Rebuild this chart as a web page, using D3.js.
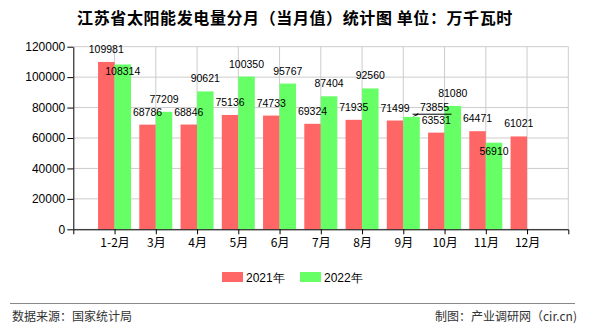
<!DOCTYPE html>
<html><head><meta charset="utf-8">
<script src="https://cdn.jsdelivr.net/npm/d3@7"></script>
<style>
html,body{margin:0;padding:0;background:#fff;}
svg{display:block;}
</style></head>
<body>
<svg id="chart" width="590" height="330"></svg>
<script>
const categories = ["1-2月","3月","4月","5月","6月","7月","8月","9月","10月","11月","12月"];
const series2021 = [109981,68786,68846,75136,74733,69324,71935,71499,63531,64471,61021];
const series2022 = [108314,77209,90621,100350,95767,87404,92560,73855,81080,56910,null];
const seriesNames = ["2021年","2022年"];
const seriesColors = ["#FF6666","#66FF66"];
const yTicks = [0,20000,40000,60000,80000,100000,120000];
const title = "江苏省太阳能发电量分月（当月值）统计图 单位：万千瓦时";
const sourceText = "数据来源：国家统计局";
const creditText = "制图：产业调研网（cir.cn)";
// label displacements (as in the reference, to avoid overlaps)
const labelShift = [
  {s:1, c:"1-2月", dx:0, dy:20, leader:false},
  {s:1, c:"11月", dx:0, dy:21, leader:false},
  {s:1, c:"9月", dx:23, dy:3.3, leader:true}
];

const svg = d3.select("#chart");
const pLeft = 73.3, pRight = 568.3, pTop = 46.7, pBottom = 229.3;
const barW = 16.5;

const x = d3.scalePoint().domain(categories).range([pLeft, pRight]).padding(1);
const y = d3.scaleLinear().domain([0,120000]).range([pBottom, pTop]);

// title
svg.append("text").attr("x", 295).attr("y", 24).attr("text-anchor","middle")
  .style("font-family","'Noto Sans CJK SC'").style("font-size","16px").style("font-weight","bold")
  .style("letter-spacing","0.6px")
  .attr("fill","#000").text(title);

// grid
const grid = svg.append("g");
grid.selectAll("line.h").data(yTicks).join("line")
  .attr("x1", pLeft).attr("x2", pRight).attr("y1", d=>y(d)).attr("y2", d=>y(d))
  .attr("stroke","#cccccc").attr("stroke-width",1);
grid.selectAll("line.v").data(categories.map(c=>x(c)).concat([pRight])).join("line")
  .attr("x1", d=>d).attr("x2", d=>d).attr("y1", pTop).attr("y2", pBottom)
  .attr("stroke","#cccccc").attr("stroke-width",1);

// bars
const data = categories.map((c,i)=>({c, v:[series2021[i], series2022[i]]}));
const barG = svg.append("g");
[0,1].forEach(s=>{
  barG.selectAll("rect.s"+s).data(data.filter(d=>d.v[s]!=null)).join("rect")
    .attr("class","s"+s)
    .attr("x", d=> s===0 ? x(d.c)-barW : x(d.c))
    .attr("y", d=>y(d.v[s]))
    .attr("width", barW)
    .attr("height", d=>pBottom - y(d.v[s]))
    .attr("fill", seriesColors[s]);
});

// axes
const yAxis = svg.append("g").attr("transform",`translate(${pLeft},0)`)
  .call(d3.axisLeft(y).tickValues(yTicks).tickFormat(d3.format("d")).tickSize(6).tickSizeOuter(0));
const xAxis = svg.append("g").attr("transform",`translate(0,${pBottom})`)
  .call(d3.axisBottom(x).tickSize(5).tickSizeOuter(5));
[yAxis,xAxis].forEach(a=>{
  a.selectAll("path,line").attr("stroke","#000");
  a.selectAll("text").attr("fill","#000")
   .style("font-family","'Liberation Sans', Arial, sans-serif").style("font-size","12px");
});
yAxis.selectAll("text").attr("x",-8);
xAxis.selectAll("text").attr("y",9).style("font-family","'Noto Sans CJK SC'").style("font-size","12px");

// value labels
const lblG = svg.append("g").style("font-family","'Liberation Sans', Arial, sans-serif").style("font-size","10.5px");
[0,1].forEach(s=>{
  data.filter(d=>d.v[s]!=null).forEach(d=>{
    const cx = s===0 ? x(d.c)-barW/2 : x(d.c)+barW/2;
    const sh = labelShift.find(o=>o.s===s && o.c===d.c) || {dx:0,dy:0,leader:false};
    const ty = y(d.v[s]) - 9 + sh.dy;
    const tx = cx + sh.dx;
    lblG.append("text").attr("x",tx).attr("y",ty).attr("text-anchor","middle").attr("fill","#000").text(d.v[s]);
    if (sh.leader) {
      const ly = ty + 3;
      const lx0 = cx + 1, lx1 = tx + 17;
      lblG.append("line").attr("x1",lx0).attr("x2",lx1).attr("y1",ly).attr("y2",ly)
        .attr("stroke","#000").attr("stroke-width",1);
      lblG.append("path").attr("d",`M${lx0},${ly+2.5}L${lx0+6},${ly-1.5}L${lx0+5},${ly+1}Z`).attr("fill","#000");
    }
  });
});

// legend
const lg = svg.append("g");
seriesNames.forEach((n,i)=>{
  const lx = 222 + i*78;
  lg.append("rect").attr("x",lx).attr("y",272).attr("width",21).attr("height",10).attr("fill",seriesColors[i]);
  lg.append("text").attr("x",lx+24).attr("y",281.5).attr("fill","#000")
    .style("font-family","'Liberation Sans', Arial, sans-serif").style("font-size","12px").text(n);
});

// footer
svg.append("line").attr("x1",10).attr("x2",575).attr("y1",303.5).attr("y2",303.5).attr("stroke","#888").attr("stroke-width",1.2);
svg.append("text").attr("x",12).attr("y",321).attr("fill","#333")
  .style("font-family","'Noto Sans CJK SC'").style("font-size","12px").text(sourceText);
svg.append("text").attr("x",577).attr("y",321).attr("text-anchor","end").attr("fill","#333")
  .style("font-family","'Noto Sans CJK SC'").style("font-size","12px").text(creditText);
</script>
</body></html>
